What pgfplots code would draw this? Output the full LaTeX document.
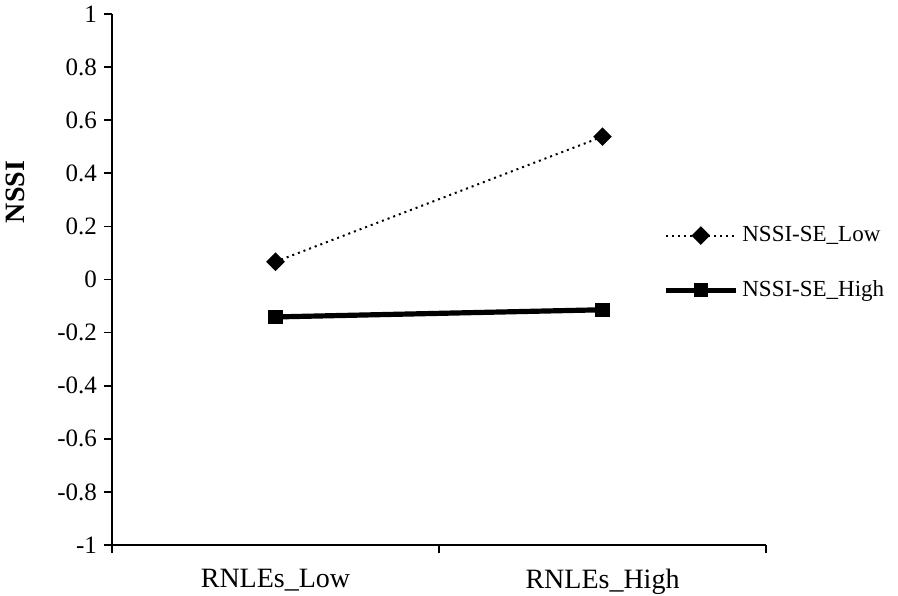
\documentclass[border=0pt]{standalone}
\usepackage{fontspec}
\setmainfont{Liberation Serif}
\usepackage{pgfplots}
\pgfplotsset{compat=1.18}

\begin{document}
\begin{tikzpicture}
\begin{axis}[
    scale only axis,
    width=327pt, height=265.5pt,
    xmin=0, xmax=2,
    ymin=-1, ymax=1,
    axis x line=bottom, axis y line=left,
    axis line style={-, line width=0.8pt},
    xtick={0,1,2},
    xticklabels={},
    extra x ticks={0.5,1.5},
    extra x tick labels={RNLEs\_Low, RNLEs\_High},
    extra x tick style={tick style={draw=none}},
    major tick length=4pt,
    ytick={-1,-0.8,-0.6,-0.4,-0.2,0,0.2,0.4,0.6,0.8,1},
    yticklabels={-1,-0.8,-0.6,-0.4,-0.2,0,0.2,0.4,0.6,0.8,1},
    tick style={black, line width=0.8pt},
    tick align=outside,
    x tick label style={font=\fontsize{14}{16}\selectfont, yshift=-4.5pt},
    y tick label style={font=\fontsize{12.5}{14}\selectfont},
    ylabel={\textbf{NSSI}},
    ylabel style={font=\fontsize{14}{16}\selectfont, at={(axis description cs:-0.147,0.665)}, anchor=center},
    legend style={draw=none, fill=none, at={(axis description cs:0.833,0.531)}, anchor=west,
        font=\fontsize{11.5}{13}\selectfont, row sep=14pt},
    legend cell align=left,
    legend image code/.code={\draw[mark repeat=2, mark phase=2] plot coordinates {(0pt,0pt) (17.5pt,0pt) (35pt,0pt)};},
    clip=false,
]
\addplot[black, line width=1pt, dotted, mark=square*, mark size=2.8pt, mark options={solid, rotate=45}]
    coordinates {(0.5,0.067) (1.5,0.538)};
\addplot[black, line width=2.6pt, mark=square*, mark size=3.3pt, mark options={solid, line width=0.5pt}]
    coordinates {(0.5,-0.141) (1.5,-0.114)};
\legend{NSSI-SE\_Low, NSSI-SE\_High}
\end{axis}
\pgfresetboundingbox
\path (-56pt,-25pt) rectangle (393pt,272.5pt);
\end{tikzpicture}
\end{document}
